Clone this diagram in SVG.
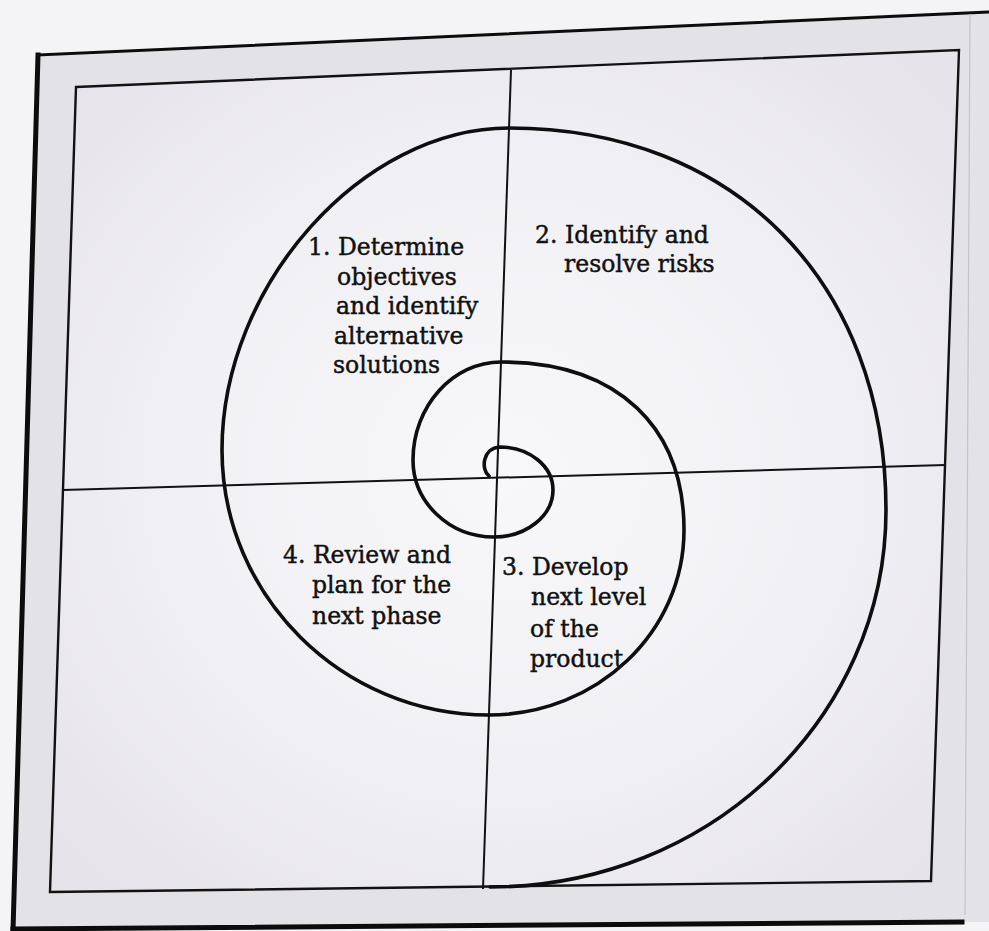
<svg xmlns="http://www.w3.org/2000/svg" width="989" height="931" viewBox="0 0 989 931">
<defs>
<radialGradient id="inner" cx="50%" cy="50%" r="65%">
<stop offset="0" stop-color="#f8f8fa"/>
<stop offset="0.6" stop-color="#f0eff3"/>
<stop offset="1" stop-color="#e6e4ea"/>
</radialGradient>
<style>
.frame{fill:none;stroke:#121212;stroke-width:2.4}
.div{fill:none;stroke:#121212;stroke-width:2}
.spiral{fill:none;stroke:#0e0e0e;stroke-width:3.6;stroke-linecap:round;stroke-linejoin:round}
.lbl{font-family:"DejaVu Serif","Liberation Serif",serif;font-size:23.5px;fill:#111;stroke:#111;stroke-width:0.45}
.edge{fill:none;stroke:#0c0c0c;stroke-linecap:square}
</style>
</defs>
<rect x="0" y="0" width="989" height="931" fill="#f4f3f5"/>
<g id="page">
<polygon points="38,55 989,10 989,922 965,922 13,931" fill="#e3e2e7"/>
<polygon points="76,87 959,50 931,881 50,892" fill="url(#inner)"/>
<line class="edge" x1="38" y1="55" x2="989" y2="12" stroke-width="3"/>
<line class="edge" x1="38" y1="55" x2="13" y2="931" stroke-width="5"/>
<line class="edge" x1="13" y1="929" x2="962" y2="922" stroke-width="5"/>
<line x1="970" y1="14" x2="965" y2="915" stroke="#c4c3c9" stroke-width="1.2"/>
<polygon class="frame" points="76,87 959,50 931,881 50,892"/>
</g>
<g id="connectors">
<line class="div" x1="511" y1="70" x2="483" y2="889"/>
<line class="div" x1="63" y1="490" x2="945" y2="465"/>
<path id="spiral" class="spiral" d="M 489 476 C 481 470 482 448 500 447 C 529 447 553 466 553 490 C 553 516 526 537 494 537 C 449 537 413 502 413 460 C 413 406 453 362 501 362 C 620 362 684 429 684 530 C 684 632 597 715 489 715 C 342 715 222 596 222 450 C 222 285 362 128 509 128 C 735 128 886 283 886 510 C 886 719 709 887 490 887"/>
</g>
<g id="q1">
<text class="lbl" x="308" y="255">1. Determine</text>
<text class="lbl" x="337" y="285">objectives</text>
<text class="lbl" x="336" y="314">and identify</text>
<text class="lbl" x="334" y="344">alternative</text>
<text class="lbl" x="333" y="373">solutions</text>
</g>
<g id="q2">
<text class="lbl" x="535" y="243">2. Identify and</text>
<text class="lbl" x="564" y="272">resolve risks</text>
</g>
<g id="q3">
<text class="lbl" x="502" y="575">3. Develop</text>
<text class="lbl" x="531" y="605">next level</text>
<text class="lbl" x="530" y="637">of the</text>
<text class="lbl" x="530" y="667">product</text>
</g>
<g id="q4">
<text class="lbl" x="283" y="563">4. Review and</text>
<text class="lbl" x="312" y="593">plan for the</text>
<text class="lbl" x="312" y="624">next phase</text>
</g>
</svg>
